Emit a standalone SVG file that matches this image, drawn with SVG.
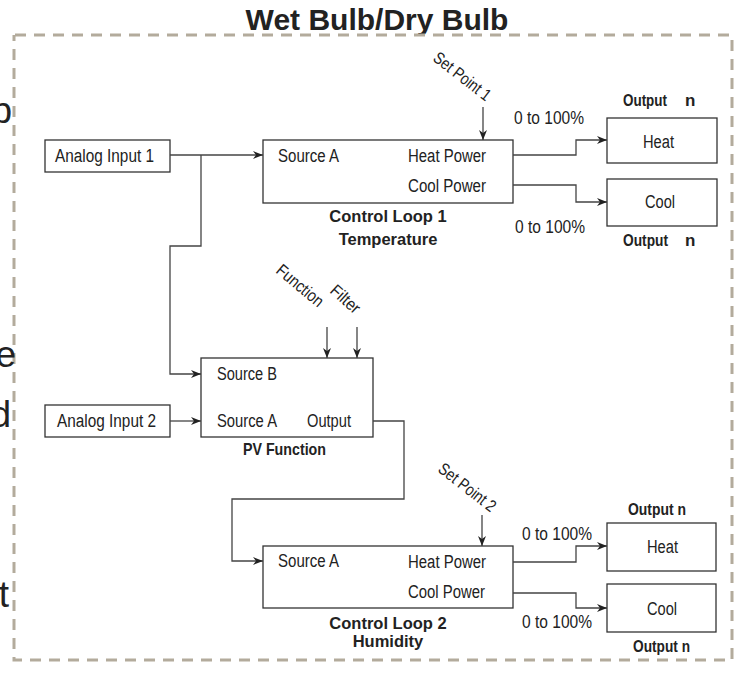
<svg xmlns="http://www.w3.org/2000/svg" width="739" height="673" viewBox="0 0 739 673">
<style>
.lbl{font-family:"Liberation Sans",Arial,sans-serif;font-size:18px;fill:#222}
.rot{font-family:"Liberation Sans",Arial,sans-serif;font-size:17px;fill:#222}
.bn{font-family:"Liberation Sans",Arial,sans-serif;font-size:17px;font-weight:bold;fill:#222}
.bw{font-family:"Liberation Sans",Arial,sans-serif;font-size:16.5px;font-weight:bold;fill:#222;text-anchor:middle}
.box{fill:#fff;stroke:#333;stroke-width:1.3}
.con path{fill:none;stroke:#444;stroke-width:1.3}
.side{font-family:"Liberation Sans",Arial,sans-serif;font-size:37px;fill:#222;text-anchor:end}
</style>
<defs>
<marker id="ah" markerUnits="userSpaceOnUse" markerWidth="12" markerHeight="10" refX="10" refY="4" orient="auto">
<path d="M0,0 L10,4 L0,8 L3,4 z" fill="#222"/>
</marker>
</defs>
<rect width="739" height="673" fill="#fff"/>
<text x="377" y="30" font-family="Liberation Sans, Arial, sans-serif" font-size="30" font-weight="bold" fill="#222" text-anchor="middle">Wet Bulb/Dry Bulb</text>
<path d="M15,35 H732 V660 H14 V35" fill="none" stroke="#b3ab9c" stroke-width="3" stroke-dasharray="11,8"/>
<text class="side" x="12" y="123">b</text>
<text class="side" x="16" y="367">e</text>
<text class="side" x="11" y="427">d</text>
<text class="side" x="9" y="607">t</text>

<g id="ai1"><rect class="box" x="45" y="140" width="125" height="32"/><text class="lbl" x="55" y="162" textLength="99" lengthAdjust="spacingAndGlyphs">Analog Input 1</text></g>
<g id="ai2"><rect class="box" x="45" y="405" width="125" height="32"/><text class="lbl" x="57" y="427" textLength="99" lengthAdjust="spacingAndGlyphs">Analog Input 2</text></g>

<g id="cl1"><rect class="box" x="263" y="140" width="250" height="63"/>
<text class="lbl" x="278" y="162" textLength="61" lengthAdjust="spacingAndGlyphs">Source A</text>
<text class="lbl" x="408" y="162" textLength="78" lengthAdjust="spacingAndGlyphs">Heat Power</text>
<text class="lbl" x="408" y="192" textLength="78" lengthAdjust="spacingAndGlyphs">Cool Power</text>
<text class="bw" x="388" y="222">Control Loop 1</text>
<text class="bw" x="388" y="245">Temperature</text>
<text class="rot" transform="translate(432,60) rotate(38)" textLength="68" lengthAdjust="spacingAndGlyphs">Set Point 1</text>
</g>

<g id="out1h"><rect class="box" x="607" y="118" width="110" height="45"/><text class="lbl" x="643" y="148" textLength="31" lengthAdjust="spacingAndGlyphs">Heat</text>
<text class="bn" x="623" y="106"><tspan textLength="44" lengthAdjust="spacingAndGlyphs">Output</tspan><tspan x="685">n</tspan></text>
<text class="lbl" x="514" y="124" textLength="70" lengthAdjust="spacingAndGlyphs">0 to 100%</text></g>
<g id="out1c"><rect class="box" x="607" y="179" width="110" height="47"/><text class="lbl" x="645" y="208" textLength="30" lengthAdjust="spacingAndGlyphs">Cool</text>
<text class="bn" x="623" y="246"><tspan textLength="45" lengthAdjust="spacingAndGlyphs">Output</tspan><tspan x="685">n</tspan></text>
<text class="lbl" x="515" y="233" textLength="70" lengthAdjust="spacingAndGlyphs">0 to 100%</text></g>

<g id="pv"><rect class="box" x="201" y="358" width="172" height="79"/>
<text class="lbl" x="217" y="380" textLength="60" lengthAdjust="spacingAndGlyphs">Source B</text>
<text class="lbl" x="217" y="427" textLength="60" lengthAdjust="spacingAndGlyphs">Source A</text>
<text class="lbl" x="307" y="427" textLength="44" lengthAdjust="spacingAndGlyphs">Output</text>
<text class="bn" x="243" y="455" textLength="83" lengthAdjust="spacingAndGlyphs">PV Function</text>
<text class="rot" transform="translate(275,272) rotate(40)" textLength="56" lengthAdjust="spacingAndGlyphs">Function</text>
<text class="rot" transform="translate(329,292) rotate(42)" textLength="34" lengthAdjust="spacingAndGlyphs">Filter</text>
</g>

<g id="cl2"><rect class="box" x="263" y="546" width="250" height="62"/>
<text class="lbl" x="278" y="567" textLength="61" lengthAdjust="spacingAndGlyphs">Source A</text>
<text class="lbl" x="408" y="568" textLength="78" lengthAdjust="spacingAndGlyphs">Heat Power</text>
<text class="lbl" x="408" y="598" textLength="77" lengthAdjust="spacingAndGlyphs">Cool Power</text>
<text class="bw" x="388" y="629">Control Loop 2</text>
<text class="bw" x="388" y="647">Humidity</text>
<text class="rot" transform="translate(437,471) rotate(38)" textLength="68" lengthAdjust="spacingAndGlyphs">Set Point 2</text>
</g>

<g id="out2h"><rect class="box" x="607" y="523" width="109" height="48"/><text class="lbl" x="647" y="553" textLength="31" lengthAdjust="spacingAndGlyphs">Heat</text>
<text class="bn" x="628" y="515" textLength="58" lengthAdjust="spacingAndGlyphs">Output n</text>
<text class="lbl" x="522" y="540" textLength="70" lengthAdjust="spacingAndGlyphs">0 to 100%</text></g>
<g id="out2c"><rect class="box" x="607" y="584" width="109" height="48"/><text class="lbl" x="647" y="615" textLength="30" lengthAdjust="spacingAndGlyphs">Cool</text>
<text class="bn" x="633" y="652" textLength="57" lengthAdjust="spacingAndGlyphs">Output n</text>
<text class="lbl" x="522" y="628" textLength="70" lengthAdjust="spacingAndGlyphs">0 to 100%</text></g>

<g id="connectors" class="con">
<path d="M170,155 H263" marker-end="url(#ah)"/>
<path d="M201,155 V246 H170 V374 H201" marker-end="url(#ah)"/>
<path d="M170,421 H201" marker-end="url(#ah)"/>
<path d="M373,421 H404 V499 H232 V561 H263" marker-end="url(#ah)"/>
<path d="M513,155 H576 V140 H607" marker-end="url(#ah)"/>
<path d="M513,185 H576 V202 H607" marker-end="url(#ah)"/>
<path d="M483,107 V140" marker-end="url(#ah)"/>
<path d="M327,327 V358" marker-end="url(#ah)"/>
<path d="M357,327 V358" marker-end="url(#ah)"/>
<path d="M482,515 V546" marker-end="url(#ah)"/>
<path d="M513,562 H576 V546 H607" marker-end="url(#ah)"/>
<path d="M513,593 H576 V608 H607" marker-end="url(#ah)"/>
</g>
</svg>
